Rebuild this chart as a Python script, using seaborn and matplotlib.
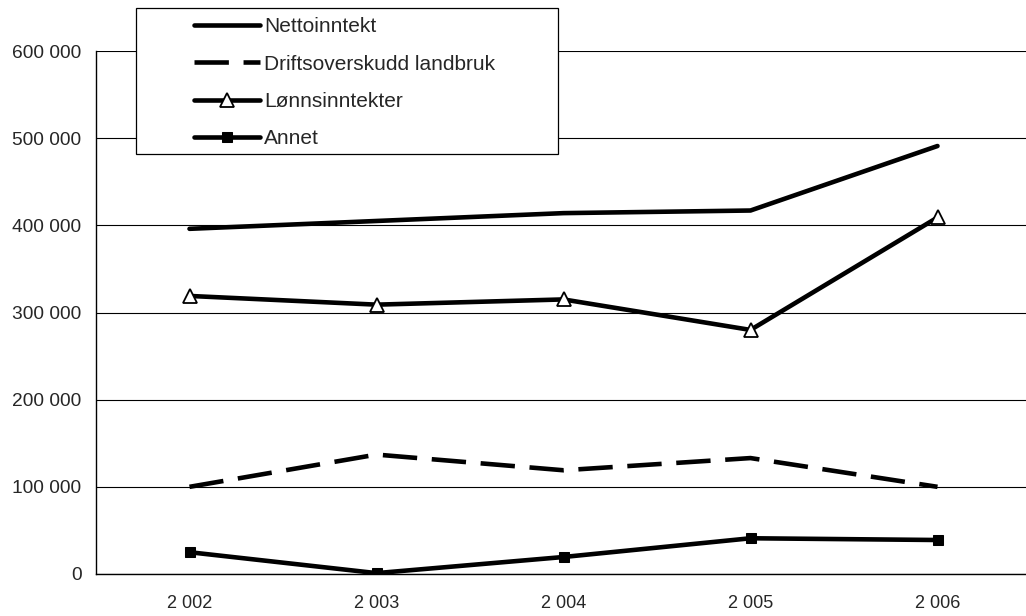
"""
Inntektsutvikling 2002-2006: nettoinntekt og komponenter.
"""

import numpy as np
import pandas as pd
import matplotlib
matplotlib.use("Agg")
import matplotlib.pyplot as plt
import seaborn as sns
from matplotlib.lines import Line2D
from matplotlib.patches import Rectangle
from matplotlib.legend_handler import HandlerLine2D
from matplotlib.ticker import FixedLocator, FuncFormatter

years = ["2 002", "2 003", "2 004", "2 005", "2 006"]
nettoinntekt = [396000, 405000, 414000, 417000, 491000]
driftsoverskudd = [100000, 137000, 119000, 133000, 100000]
lonnsinntekter = [319000, 309000, 315000, 280000, 409000]
annet = [25000, 1000, 19500, 41000, 39000]

series = {
    "Nettoinntekt": nettoinntekt,
    "Driftsoverskudd landbruk": driftsoverskudd,
    "Lønnsinntekter": lonnsinntekter,
    "Annet": annet,
}
styles = {
    "Nettoinntekt": dict(linestyle="-", marker=None),
    "Driftsoverskudd landbruk": dict(linestyle=(0, (7.5, 3.2)), marker=None),
    "Lønnsinntekter": dict(linestyle="-", marker="^", markersize=10,
                           markerfacecolor="white", markeredgecolor="black",
                           markeredgewidth=1.3),
    "Annet": dict(linestyle="-", marker="s", markersize=7,
                  markerfacecolor="black", markeredgecolor="black"),
}

rows = []
for name, vals in series.items():
    for i, v in enumerate(vals):
        rows.append({"serie": name, "pos": i, "verdi": v})
df = pd.DataFrame(rows)

sns.set_style("white")
plt.rcParams["font.family"] = ["Liberation Sans", "DejaVu Sans"]

fig = plt.figure(figsize=(10.26, 6.16), dpi=100)
ax = fig.add_axes([96 / 1026, 1 - 574 / 616, (1031 - 96) / 1026, (574 - 51) / 616])

for name in series:
    sub = df[df["serie"] == name]
    sns.lineplot(data=sub, x="pos", y="verdi", ax=ax, color="black",
                 linewidth=3.3, label=name, solid_capstyle="round",
                 dash_capstyle="butt", **styles[name])

ax.set_xlim(-0.5, len(years) - 0.5)
ax.set_ylim(0, 600000)
ax.set_yticks(np.arange(0, 600001, 100000))
ax.yaxis.set_major_formatter(FuncFormatter(lambda v, p: f"{int(v):,}".replace(",", " ")))
ax.set_xticks(range(len(years)))
ax.set_xticklabels(years)
ax.xaxis.set_minor_locator(FixedLocator(np.arange(-0.5, len(years), 1.0)))
ax.tick_params(axis="x", which="major", length=0, pad=15, labelsize=13)
ax.tick_params(axis="x", which="minor", length=4.5, width=0.8, direction="out", color="black")
ax.tick_params(axis="y", length=4.5, width=0.8, direction="out", color="black",
               labelsize=13.8, pad=6)
ax.set_xlabel("")
ax.set_ylabel("")

ax.grid(axis="y", color="black", linewidth=0.8)
ax.set_axisbelow(True)
for side in ["top", "right"]:
    ax.spines[side].set_visible(False)
for side in ["left", "bottom"]:
    ax.spines[side].set_color("black")
    ax.spines[side].set_linewidth(1.0)

# legend box drawn separately so it can be wider than the entries
box = Rectangle((136 / 1026, 1 - 154 / 616), (558 - 136) / 1026, (154 - 8) / 616,
                transform=fig.transFigure, facecolor="white", edgecolor="black",
                linewidth=0.9, clip_on=False, zorder=4)
ax.add_patch(box)

leg = ax.legend(loc="upper left", bbox_to_anchor=(136 / 1026, 1 - 8 / 616),
                bbox_transform=fig.transFigure, frameon=False,
                fontsize=15, handlelength=5.5,
                handletextpad=0.2, labelspacing=0.88, borderpad=0.45,
                borderaxespad=0,
                handler_map={Line2D: HandlerLine2D(xpad=2.35)})
leg.set_zorder(5)

fig.savefig("out.png", dpi=100)
